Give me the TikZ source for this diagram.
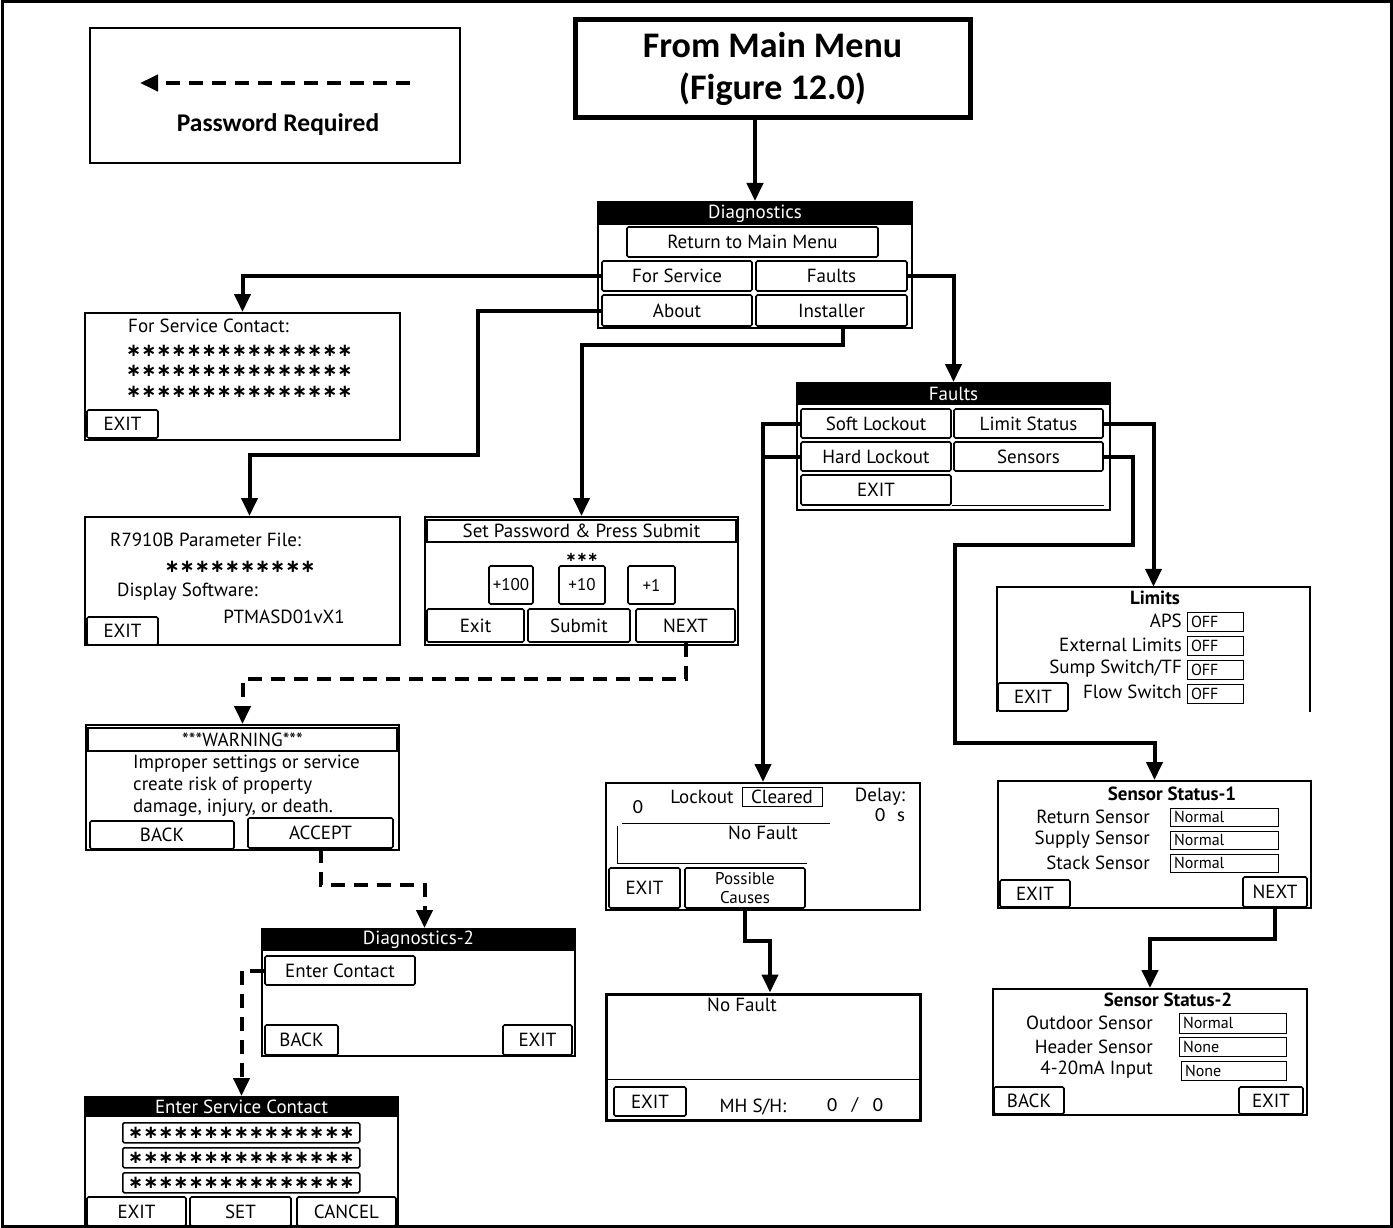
\documentclass[tikz,border=0pt]{standalone}
\usepackage{fontspec}
\usepackage{tikz}
\usetikzlibrary{arrows.meta}
\setmainfont{Carlito}
\newfontfamily\scrFamily{PT Sans}
\newfontfamily\starFamily{DejaVu Sans}
\newcommand{\scrFont}{\scrFamily\fontsize{19}{22}\selectfont}
\newcommand{\headFont}{\scrFamily\bfseries\fontsize{19}{22}\selectfont}
\newcommand{\valFont}{\scrFamily\fontsize{16}{18}\selectfont}
\newcommand{\numFont}{\fontsize{20}{22}\selectfont}
\newcommand{\starFont}{\starFamily\bfseries\fontsize{18}{20}\selectfont}
\newcommand{\stars}{∗∗∗∗∗∗∗∗∗∗∗∗∗∗∗}

\tikzset{
    corners/.style n args={4}{at={({(#1+#3)/2},{(#2+#4)/2})},
        minimum width={(#3)-(#1)}, minimum height={(#4)-(#2)}},
    screen/.style={draw, line width=2pt, inner sep=0pt},
    button/.style={draw, line width=1.6pt, rounded corners=1.5pt, inner sep=0pt, font=\scrFont},
    titlebar/.style={fill=black, text=white, inner sep=0pt, font=\scrFont},
    field/.style={draw, line width=0.8pt, inner sep=0pt, font=\valFont},
    txt/.style={inner sep=0pt, font=\scrFont},
    link/.style={line width=4pt, -{Triangle[length=18pt,width=16pt]}},
    pwlink/.style={link, dash pattern=on 14pt off 9pt}
}

\begin{document}
\begin{tikzpicture}[x=1pt,y=-1pt]
        \useasboundingbox (0,0) rectangle (1393,1228);
        % outer frame
        \draw[line width=3pt] (2,2) rectangle (1391,1226);

        % legend
        \node[draw, line width=1.2pt, inner sep=0pt, corners={90}{28}{460}{163}] (legend) {};
        \coordinate (pwFrom) at (410,83);
        \coordinate (pwTo) at (140,83);
        \draw[pwlink] (pwFrom) -- (pwTo);
        \node[font=\bfseries\fontsize{25.5}{30}\selectfont] (pwText) at (278,125) {Password Required};

        % main menu
        \node[draw, line width=5pt, inner sep=0pt, corners={575}{20}{970}{118}, align=center,
            font=\bfseries\fontsize{36}{42}\selectfont] (mainMenu) {From Main Menu\\(Figure 12.0)};

        % diagnostics
        \node[screen, corners={598}{202}{912}{328}] (diag) {};
        \node[titlebar, corners={598}{202}{912}{225}] (diagTitle) {Diagnostics};
        \node[button, corners={627}{227}{878}{257}] (diagReturn) {Return to Main Menu};
        \node[button, corners={602}{261}{752}{291}] (diagService) {For Service};
        \node[button, corners={756}{261}{907}{291}] (diagFaults) {Faults};
        \node[button, corners={602}{295}{752}{326}] (diagAbout) {About};
        \node[button, corners={756}{295}{907}{326}] (diagInstaller) {Installer};

        % for service contact
        \node[screen, corners={85}{313}{400}{440}] (service) {};
        \node[txt, anchor=west] (serviceText) at (128,326) {For Service Contact:};
        \foreach \y/\name in {351/A,371/B,392/C}
            \node[inner sep=0pt, font=\starFont, anchor=west] (serviceStars\name) at (126,\y) {\stars};
        \node[button, corners={87}{410}{158}{438}] (serviceExit) {EXIT};

        % about
        \node[screen, corners={85}{517}{400}{645}] (about) {};
        \node[txt, anchor=west] (aboutFile) at (110,540) {R7910B Parameter File:};
        \node[inner sep=0pt, font=\starFont] (aboutStars) at (240,567) {∗∗∗∗∗∗∗∗∗∗};
        \node[txt, anchor=west] (aboutDisplay) at (117,592) {Display Software:};
        \node[txt] (aboutVersion) at (284,617) {PTMASD01vX1};
        \node[button, corners={87}{617}{158}{645}] (aboutExit) {EXIT};

        % password
        \node[screen, corners={425}{517}{738}{645}] (password) {};
        \node[field, line width=1.6pt, font=\scrFont, corners={427}{520}{736}{542}] (passwordTitle) {Set Password \& Press Submit};
        \node[inner sep=0pt, font=\starFamily\bfseries\fontsize{13}{15}\selectfont] (passwordStars) at (582,557) {∗∗∗};
        \node[button, font=\scrFamily\fontsize{17}{19}\selectfont, corners={489}{566}{533}{604}] (plusHundred) {+100};
        \node[button, font=\scrFamily\fontsize{17}{19}\selectfont, corners={559}{566}{605}{604}] (plusTen) {+10};
        \node[button, font=\scrFamily\fontsize{17}{19}\selectfont, corners={628}{566}{675}{604}] (plusOne) {+1};
        \node[button, corners={427}{609}{524}{642}] (passwordExit) {Exit};
        \node[button, corners={528}{609}{630}{642}] (passwordSubmit) {Submit};
        \node[button, corners={636}{609}{735}{642}] (passwordNext) {NEXT};

        % warning
        \node[screen, corners={86}{725}{399}{850}] (warning) {};
        \node[field, line width=1.6pt, font=\scrFont, corners={88}{728}{397}{751}] (warningTitle) {***WARNING***};
        \node[txt, anchor=west, align=left] (warningText) at (133,786)
            {Improper settings or service\\create risk of property\\damage, injury, or death.};
        \node[button, corners={90}{821}{234}{849}] (warningBack) {BACK};
        \node[button, corners={248}{818}{393}{848}] (warningAccept) {ACCEPT};

        % diagnostics-2
        \node[screen, corners={262}{929}{575}{1056}] (diagTwo) {};
        \node[titlebar, corners={262}{929}{575}{951}] (diagTwoTitle) {Diagnostics-2};
        \node[button, corners={265}{956}{415}{985}] (enterContact) {Enter Contact};
        \node[button, corners={265}{1025}{338}{1055}] (diagTwoBack) {BACK};
        \node[button, corners={503}{1025}{572}{1055}] (diagTwoExit) {EXIT};

        % enter service contact
        \node[screen, corners={85}{1097}{398}{1226}] (contact) {};
        \node[titlebar, corners={85}{1097}{398}{1117}] (contactTitle) {Enter Service Contact};
        \foreach \y/\name in {1122/A,1147/B,1172/C}
            \node[field, line width=1.6pt, rounded corners=1.5pt, font=\starFont, minimum width=237pt,
                minimum height=20pt, anchor=north west] (contactField\name) at (122,\y) {\stars};
        \node[button, corners={87}{1197}{186}{1226}] (contactExit) {EXIT};
        \node[button, corners={190}{1197}{291}{1226}] (contactSet) {SET};
        \node[button, corners={297}{1197}{396}{1226}] (contactCancel) {CANCEL};

        % faults
        \node[screen, corners={797}{383}{1110}{510}] (faults) {};
        \node[titlebar, corners={797}{383}{1110}{405}] (faultsTitle) {Faults};
        \node[button, corners={801}{409}{951}{438}] (softLockout) {Soft Lockout};
        \node[button, corners={954}{409}{1103}{438}] (limitStatus) {Limit Status};
        \node[button, corners={801}{442}{951}{471}] (hardLockout) {Hard Lockout};
        \node[button, corners={954}{442}{1103}{471}] (sensors) {Sensors};
        \node[button, corners={801}{475}{951}{505}] (faultsExit) {EXIT};
        \draw[line width=0.8pt] (faultsExit.south east) -- (sensors.south east |- faultsExit.south east);

        % lockout
        \node[screen, corners={606}{783}{920}{910}] (lockout) {};
        \node[inner sep=0pt, font=\numFont] (lockoutCount) at (638,807) {0};
        \node[txt] (lockoutLabel) at (702,797) {Lockout};
        \node[field, font=\scrFont, corners={742}{787}{822}{806}] (lockoutState) {Cleared};
        \node[txt] (delayLabel) at (880,797) {Delay:};
        \node[inner sep=0pt, font=\numFont] (delayValue) at (890,815) {0\hspace{12pt}s};
        \draw[line width=1pt] (622,823) -- (830,823);
        \draw[line width=1pt] (617,826) |- (807,863);
        \node[txt] (lockoutFault) at (763,833) {No Fault};
        \node[button, corners={609}{868}{680}{908}] (lockoutExit) {EXIT};
        \node[button, corners={685}{868}{805}{908}, align=center,
            font=\scrFamily\fontsize{17}{19}\selectfont] (possibleCauses) {Possible\\Causes};

        % no fault
        \node[screen, line width=3pt, corners={606}{994}{920}{1120}] (noFault) {};
        \node[txt] (noFaultText) at (742,1005) {No Fault};
        \draw[line width=1pt] (noFault.west |- 0,1079) -- (noFault.east |- 0,1079);
        \node[button, corners={614}{1087}{686}{1116}] (noFaultExit) {EXIT};
        \node[txt] (mhLabel) at (753,1107) {MH S/H:};
        \node[inner sep=0pt, font=\numFont] (mhValue) at (855,1105) {0\hspace{14pt}/\hspace{14pt}0};

        % limits
        \node[inner sep=0pt, corners={997}{587}{1310}{712}] (limits) {};
        \draw[screen] (limits.south west) |- (limits.north east) -- (limits.south east);
        \node[txt, font=\headFont] (limitsTitle) at (1155,598) {Limits};
        \node[txt, anchor=east] (apsLabel) at (1182,621) {APS};
        \node[txt, anchor=east] (extLabel) at (1182,645) {External Limits};
        \node[txt, anchor=east] (sumpLabel) at (1182,669) {Sump Switch/TF};
        \node[txt, anchor=east] (flowLabel) at (1182,692) {Flow Switch};
        \node[field, text width=48pt, align=left, corners={1187}{612}{1243}{631}] (apsValue) {OFF};
        \node[field, text width=48pt, align=left, corners={1187}{636}{1243}{655}] (extValue) {OFF};
        \node[field, text width=48pt, align=left, corners={1187}{660}{1243}{679}] (sumpValue) {OFF};
        \node[field, text width=48pt, align=left, corners={1187}{684}{1243}{703}] (flowValue) {OFF};
        \node[button, corners={998}{683}{1068}{711}] (limitsExit) {EXIT};

        % sensor status-1
        \node[screen, corners={998}{781}{1311}{908}] (sensorOne) {};
        \node[txt, font=\headFont] (sensorOneTitle) at (1172,794) {Sensor Status-1};
        \node[txt, anchor=east] (returnLabel) at (1150,817) {Return Sensor};
        \node[txt, anchor=east] (supplyLabel) at (1150,840) {Supply Sensor};
        \node[txt, anchor=east] (stackLabel) at (1150,863) {Stack Sensor};
        \node[field, text width=100pt, align=left, corners={1170}{808}{1278}{826}] (returnValue) {Normal};
        \node[field, text width=100pt, align=left, corners={1170}{831}{1278}{849}] (supplyValue) {Normal};
        \node[field, text width=100pt, align=left, corners={1170}{854}{1278}{872}] (stackValue) {Normal};
        \node[button, corners={1000}{880}{1070}{907}] (sensorOneExit) {EXIT};
        \node[button, corners={1243}{877}{1307}{907}] (sensorOneNext) {NEXT};

        % sensor status-2
        \node[screen, corners={993}{989}{1307}{1115}] (sensorTwo) {};
        \node[txt, font=\headFont] (sensorTwoTitle) at (1168,1000) {Sensor Status-2};
        \node[txt, anchor=east] (outdoorLabel) at (1153,1023) {Outdoor Sensor};
        \node[txt, anchor=east] (headerLabel) at (1153,1047) {Header Sensor};
        \node[txt, anchor=east] (inputLabel) at (1153,1070) {4-20mA Input};
        \node[field, text width=99pt, align=left, corners={1179}{1013}{1286}{1033}] (outdoorValue) {Normal};
        \node[field, text width=99pt, align=left, corners={1179}{1037}{1286}{1056}] (headerValue) {None};
        \node[field, text width=97pt, align=left, corners={1181}{1061}{1286}{1080}] (inputValue) {None};
        \node[button, corners={994}{1087}{1064}{1114}] (sensorTwoBack) {BACK};
        \node[button, corners={1239}{1087}{1303}{1114}] (sensorTwoExit) {EXIT};

        % connectors
        \draw[link] (mainMenu.south -| diag.north) -- (diag.north);
        \draw[link] (diagService.west) -| (service.north);
        \draw[link] (diagAbout.west) -| (478,455) -| ([xshift=7pt]about.north);
        \draw[link] ([xshift=11pt]diagInstaller.south) -- ++(0,18) -| (password.north);
        \draw[link] (diagFaults.east) -| (faults.north);
        \draw[link] (softLockout.west) -| (lockout.north);
        \draw[line width=4pt] (hardLockout.west) -- (hardLockout.west -| lockout.north);
        \draw[link] (limitStatus.east) -| (limits.north);
        \draw[link] (sensors.east) -| (1133,545) -| (955,743) -| (sensorOne.north);
        \draw[link] (sensorOneNext.south) -- ++(0,31) -| (sensorTwo.north);
        \draw[link] (possibleCauses.south) -- ++(0,32) -| ([xshift=7pt]noFault.north);

        % password required
        \draw[pwlink] (passwordNext.south) -- ++(0,36) -| (warning.north);
        \draw[pwlink] (warningAccept.south) -- ++(0,36) -| ([xshift=6pt]diagTwo.north);
        \draw[pwlink] (enterContact.west) -| (contact.north);
\end{tikzpicture}
\end{document}
